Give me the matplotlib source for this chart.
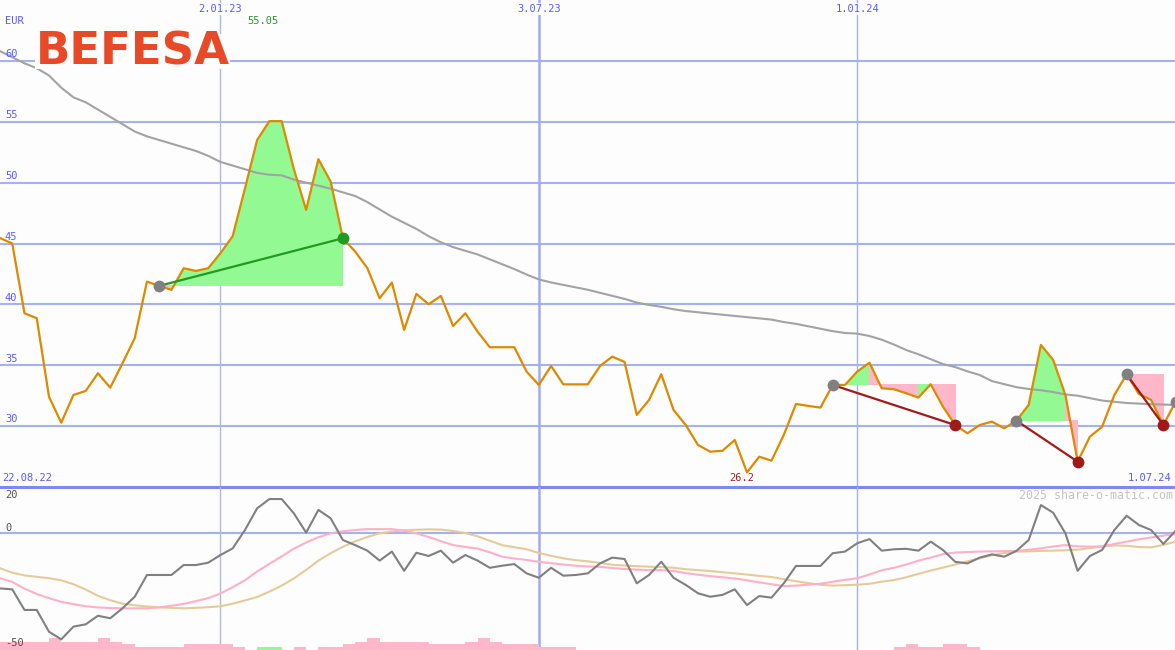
import numpy as np
import matplotlib
matplotlib.use("Agg")
import matplotlib.pyplot as plt
from matplotlib.patches import Rectangle

# weekly closes of BEFESA (EUR), first week 29.08.22
start = np.datetime64("2022-08-29")
price = [45.45, 45.0, 39.27, 38.86, 32.42, 30.28, 32.56, 32.89, 34.34, 33.16,
         35.16, 37.22, 41.87, 41.52, 41.19, 42.97, 42.75, 42.97, 44.2, 45.6,
         49.5, 53.51, 55.05, 55.05, 51.1, 47.76, 51.93, 50.09, 45.43, 44.34,
         42.97, 40.5, 41.79, 37.9, 40.86, 40.01, 40.69, 38.23, 39.27, 37.76,
         36.48, 36.48, 36.48, 34.48, 33.38, 34.94, 33.43, 33.43, 33.43, 34.94,
         35.71, 35.27, 30.92, 32.15, 34.26, 31.33, 30.09, 28.45, 27.9, 27.98,
         28.86, 26.2, 27.49, 27.16, 29.27, 31.82, 31.66, 31.52, 33.38, 33.38,
         34.48, 35.21, 33.11, 33.03, 32.7, 32.34, 33.44, 31.6, 30.09, 29.41,
         30.09, 30.37, 29.82, 30.45, 31.74, 36.67, 35.44, 32.56, 27.08, 29.13,
         29.95, 32.56, 34.25, 32.64, 32.15, 30.09, 32.0]

# long moving average (grey)
ma = [60.8, 60.3, 59.8, 59.4, 58.8, 57.8, 57.0, 56.6, 56.0, 55.4,
      54.8, 54.2, 53.8, 53.5, 53.2, 52.9, 52.6, 52.2, 51.7, 51.4,
      51.1, 50.8, 50.65, 50.6, 50.25, 50.0, 49.75, 49.5, 49.2, 48.9,
      48.4, 47.8, 47.2, 46.7, 46.2, 45.6, 45.1, 44.7, 44.4, 44.1,
      43.7, 43.3, 42.9, 42.45, 42.05, 41.8, 41.6, 41.4, 41.2, 40.95,
      40.7, 40.45, 40.15, 39.95, 39.8, 39.6, 39.45, 39.35, 39.25, 39.15,
      39.05, 38.95, 38.85, 38.75, 38.55, 38.4, 38.2, 38.0, 37.8, 37.65,
      37.6, 37.4, 37.1, 36.7, 36.25, 35.9, 35.5, 35.1, 34.85, 34.5,
      34.2, 33.7, 33.45, 33.2, 33.05, 32.95, 32.8, 32.6, 32.5, 32.3,
      32.1, 32.0, 31.9, 31.85, 31.8, 31.77, 31.74]

# oscillator panel
mom = [-23.8, -24.2, -33.1, -33.1, -42.5, -45.8, -40.3, -39.3, -35.6, -36.7,
       -32.4, -27.4, -18.0, -18.0, -18.0, -13.7, -13.7, -12.7, -9.4, -6.5,
       1.4, 10.8, 14.8, 14.8, 8.6, 0.3, 10.1, 6.5, -2.9, -5.1,
       -7.5, -11.8, -7.9, -16.2, -8.4, -9.8, -7.5, -12.7, -9.4, -11.8,
       -14.9, -14.0, -13.3, -17.3, -19.2, -14.9, -18.3, -18.0, -17.3, -13.0,
       -10.5, -11.1, -21.6, -18.0, -12.3, -19.2, -22.3, -25.9, -27.4, -26.6,
       -24.2, -31.0, -27.1, -27.8, -21.6, -14.1, -14.1, -14.1, -8.6, -7.9,
       -4.3, -2.5, -7.5, -6.9, -6.7, -7.5, -3.6, -7.2, -12.3, -13.0,
       -10.5, -9.1, -10.1, -7.6, -2.9, 12.2, 8.9, 0.0, -16.2, -9.8,
       -7.2, 1.4, 7.6, 3.6, 1.4, -4.6, 1.1]
sig_fast = [-19.4, -21.0, -23.9, -26.2, -28.0, -29.6, -30.6, -31.5, -32.0, -32.3,
            -32.4, -32.4, -32.4, -32.0, -31.3, -30.5, -29.3, -28.0, -26.0, -23.3,
            -20.3, -16.5, -13.2, -10.0, -6.6, -4.0, -1.7, 0.0, 0.9, 1.4,
            1.8, 1.8, 1.8, 1.1, 0.0, -1.6, -3.4, -5.1, -5.9, -6.6,
            -8.2, -10.1, -10.9, -11.5, -12.3, -12.9, -13.5, -14.0, -14.3, -14.5,
            -15.0, -15.4, -15.7, -15.9, -15.9, -16.3, -17.2, -17.9, -18.5, -19.0,
            -19.5, -20.3, -21.2, -22.0, -22.8, -22.6, -22.2, -21.8, -20.9, -20.1,
            -19.4, -17.8, -16.0, -14.9, -13.5, -11.8, -10.5, -9.0, -8.3, -8.1,
            -7.9, -7.8, -7.7, -7.6, -7.1, -6.5, -5.7, -5.1, -5.6, -5.8,
            -5.6, -4.6, -3.6, -2.6, -1.8, -1.0, -0.3]
sig_slow = [-15.1, -17.0, -18.2, -18.8, -19.4, -20.3, -22.0, -24.3, -27.0, -28.9,
            -30.4, -31.1, -31.6, -32.0, -32.2, -32.4, -32.2, -31.9, -31.5, -30.4,
            -29.0, -27.5, -25.2, -22.6, -19.5, -15.8, -11.8, -8.6, -5.8, -3.5,
            -1.6, 0.0, 0.8, 1.3, 1.5, 1.7, 1.6, 1.0, 0.1, -1.3,
            -3.2, -5.1, -6.0, -6.9, -8.5, -9.7, -10.8, -11.6, -12.1, -12.8,
            -13.6, -13.9, -14.2, -14.4, -14.6, -14.9, -15.5, -15.9, -16.3, -16.8,
            -17.3, -17.8, -18.4, -18.9, -19.8, -20.7, -21.5, -22.2, -22.6, -22.4,
            -22.2, -21.8, -20.9, -20.2, -19.0, -17.5, -16.1, -14.8, -13.5, -12.1,
            -10.8, -9.5, -8.5, -7.9, -7.8, -7.6, -7.5, -7.3, -7.1, -6.4,
            -5.7, -5.2, -5.4, -5.9, -6.1, -5.0, -3.6]
# small bars at the bottom of the oscillator panel
vol = [3.6, 3.6, 3.6, 3.6, 5.1, 3.6, 3.6, 3.6, 5.1, 3.6,
       2.5, 1.4, 1.4, 1.4, 1.4, 2.5, 2.5, 2.5, 2.5, 1.4,
       0, 1.4, 1.4, 0, 1.4, 0, 1.4, 1.4, 2.5, 3.6,
       5.1, 3.6, 3.6, 3.6, 3.6, 2.5, 2.5, 2.5, 3.6, 5.1,
       3.6, 2.5, 2.5, 2.5, 1.4, 1.4, 1.4, 0, 0, 0,
       0, 0, 0, 0, 0, 0, 0, 0, 0, 0,
       0, 0, 0, 0, 0, 0, 0, 0, 0, 0,
       0, 0, 0, 1.4, 2.5, 1.4, 1.4, 2.5, 2.5, 1.4,
       0, 0, 0, 0, 0, 0, 0, 0, 0, 0,
       0, 0, 0, 0, 0, 0, 0]
vol_green = [21, 22]

# trade signals (week index of entry / exit)
sig_start = [13, 68, 83, 92]
sig_end = [28, 78, 88, 95]
sig_win = [True, False, False, False]
sig_open = 96

date_lines = ["2023-01-02", "2023-07-03", "2024-01-01"]
date_labels = ["2.01.23", "3.07.23", "1.01.24"]
first_label = "22.08.22"
last_label = "1.07.24"
price_ticks = [30, 35, 40, 45, 50, 55, 60]
osc_ticks = [20, 0, -50]

BG = "#fcfdfc"
GRID = "#a4b2f2"
BLUE_TXT = "#5a5aff"
GREEN_F = "#93f993"
PINK_F = "#ffb7c9"
MONO = "DejaVu Sans Mono"

def week(d):
    return (np.datetime64(d) - start).astype(int) / 7.0

x = np.arange(len(price))
xmin, xmax = 0, 95.95

fig = plt.figure(figsize=(11.75, 6.5), dpi=100, facecolor=BG)
ax = fig.add_axes([0, 163 / 650, 1, 487 / 650])
ax2 = fig.add_axes([0, 0, 1, 163 / 650])
for a in (ax, ax2):
    a.set_xlim(xmin, xmax)
    a.set_axis_off()
ax.set_ylim(25, 65.0)
ax2.set_ylim(-50.4, 20.0)

# grid
for v in price_ticks:
    ax.axhline(v, color=GRID, lw=1.5, zorder=1)
    ax.text(0.4, v + 0.55, str(v), color=BLUE_TXT, fontsize=7.5, family=MONO,
            va="center", ha="left", zorder=6)
ax.axhline(25, color="#7a8af0", lw=2.2, clip_on=False, zorder=5)
ax2.axhline(0, color=GRID, lw=1.5, zorder=1)

line_style = [("#b4b8e0", 1.0), ("#a0acf2", 1.8), ("#a6b0ee", 1.0)]
for d, lab, (c, w) in zip(date_lines, date_labels, line_style):
    xw = week(d)
    ax.axvline(xw, color=c, lw=w, zorder=1)
    ax2.axvline(xw, color=c, lw=w, zorder=1)
    ax.text(xw, 64.27, lab, color=BLUE_TXT, fontsize=7.5, family=MONO,
            ha="center", va="center", zorder=6,
            bbox=dict(facecolor=BG, edgecolor="none", pad=0.5))

# green / pink areas of the signals (no antialiasing -> no seams)
for s, e in zip(sig_start, sig_end):
    lvl = price[s]
    for i in range(s, e):
        c = GREEN_F if price[i + 1] >= lvl else PINK_F
        ax.fill([i, i, i + 1, i + 1], [lvl, price[i], price[i + 1], lvl],
                facecolor=c, edgecolor="none", lw=0, antialiased=False, zorder=2)

ax.plot(x, ma, color="#a3a3a3", lw=1.5, zorder=3)
ax.plot(x, price, color="#dd8a00", lw=1.6, zorder=4)

for s, e, win in zip(sig_start, sig_end, sig_win):
    c = "#229a22" if win else "#a01a1a"
    ax.plot([s, e], [price[s], price[e]], color=c, lw=1.6, zorder=5)
    ax.plot(s, price[s], "o", color="#808080", ms=8.5, mec="none", zorder=6)
    ax.plot(e, price[e], "o", color=c, ms=8.5, mec="none", zorder=6)
ax.plot(sig_open, price[sig_open], "o", color="#808080", ms=8.5, mec="none",
        zorder=6, clip_on=False)

# labels
imax = int(np.argmax(price))
imin = int(np.argmin(price))
ax.text(imax - 0.5, 63.25, f"{price[imax]:.2f}", color="#2a962a", fontsize=7.5,
        family=MONO, ha="center", va="center")
ax.text(imin - 0.45, 25.7, f"{price[imin]:.1f}", color="#a52222", fontsize=7.5,
        family=MONO, ha="center", va="center")
ax.text(0.4, 63.3, "EUR", color=BLUE_TXT, fontsize=7.5, family=MONO,
        ha="left", va="center")
ax.text(0.15, 25.7, first_label, color=BLUE_TXT, fontsize=7.5, family=MONO,
        ha="left", va="center")
ax.text(xmax - 0.25, 25.7, last_label, color=BLUE_TXT, fontsize=7.5, family=MONO,
        ha="right", va="center")

# logo with a plain box behind it (hides the 60 grid line there)
fig.add_artist(Rectangle((35 / 1175, 1 - 69 / 650), 195 / 1175, 35 / 650,
                         transform=fig.transFigure, facecolor=BG,
                         edgecolor="none", zorder=9))
fig.text(36 / 1175, 1 - 52 / 650, "BEFESA", color="#e84a27", fontsize=32.5,
         fontweight="bold", ha="left", va="center", zorder=10)

# oscillator panel
bar_colors = [GREEN_F if i in vol_green else PINK_F for i in x]
ax2.bar(x, vol, width=1, align="edge", bottom=-50.4, color=bar_colors, lw=0, zorder=2)
ax2.plot(x, sig_slow, color="#e6cb9a", lw=1.5, zorder=3)
ax2.plot(x, sig_fast, color="#ffb0c8", lw=1.5, zorder=3)
ax2.plot(x, mom, color="#808080", lw=1.5, zorder=4)

for v, yy in zip(osc_ticks, [16.4, 2.1, -47.2]):
    ax2.text(0.4, yy, str(v), color="#505050", fontsize=7.5, family=MONO,
             ha="left", va="center")
ax2.text(xmax - 0.2, 16.3, "2025 share-o-matic.com", color="#c4c4c4",
         fontsize=8.4, family=MONO, ha="right", va="center")

fig.savefig("out.png", dpi=100, facecolor=BG)
